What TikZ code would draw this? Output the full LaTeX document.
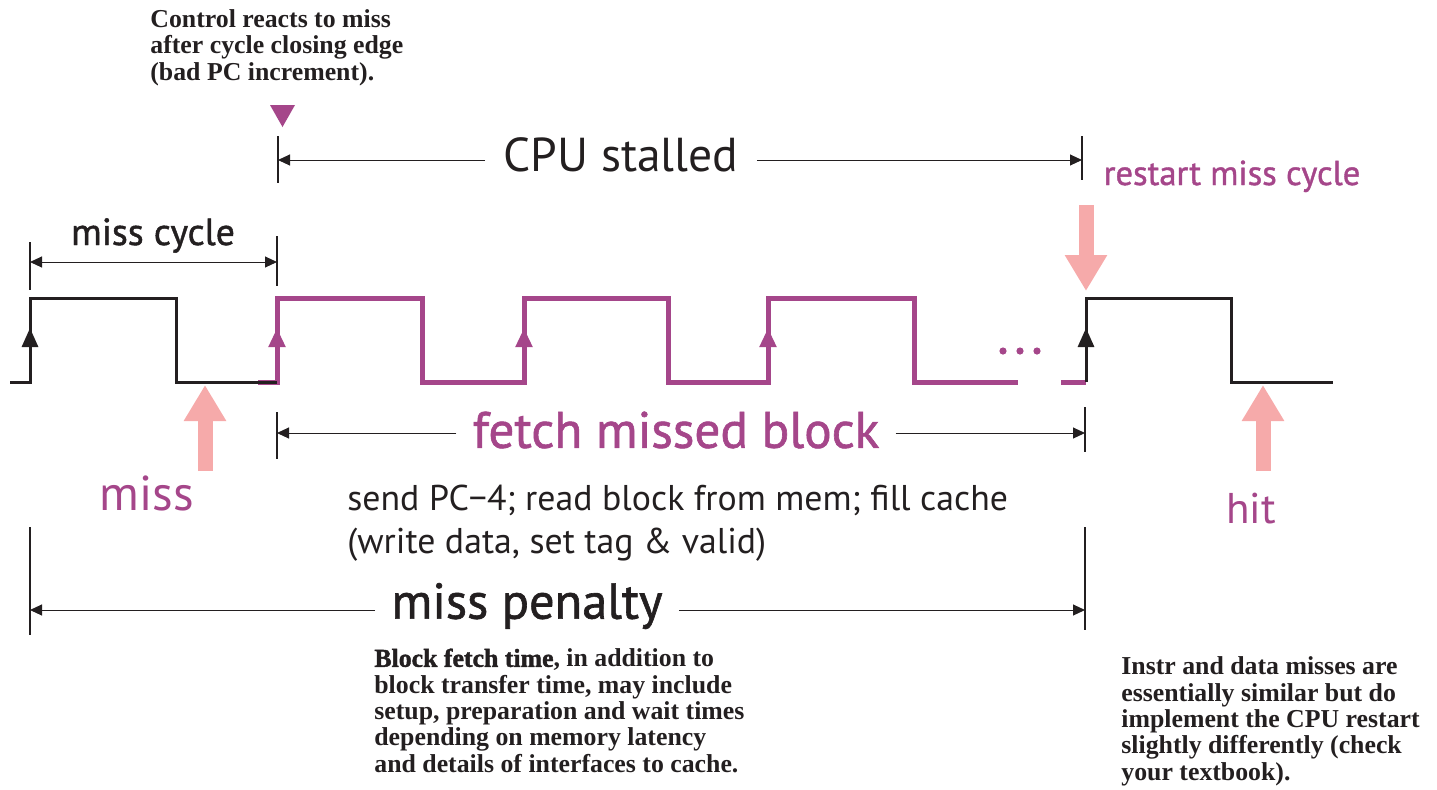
\documentclass[tikz,border=0pt]{standalone}
\usepackage{fontspec}
\setmainfont{Liberation Serif}
\newfontfamily\heavyserif{Liberation Serif}[BoldFeatures={FakeBold=1.6}]
\newfontfamily\sansfont{PT Sans}
\newfontfamily\semisans{PT Sans}[FakeBold=1.2]
\usetikzlibrary{arrows.meta, calc, positioning}

\definecolor{plum}{RGB}{165,70,138}
\definecolor{pinky}{RGB}{246,170,170}
\definecolor{ink}{RGB}{35,31,32}

\begin{document}
\begin{tikzpicture}[x=0.5pt, y=-0.5pt,
  wave/.style={ink, line width=1.5pt, line join=miter},
  fwave/.style={plum, line width=2.5pt, line join=miter},
  edgetip/.style={-{Triangle[length=9.5pt, width=8pt]}},
  tick/.style={ink, line width=0.75pt},
  dim/.style={ink, line width=0.5pt, -{Triangle[length=6pt, width=5.5pt]}},
  dimboth/.style={dim, {Triangle[length=6pt, width=5.5pt]}-{Triangle[length=6pt, width=5.5pt]}},
  pinkarrow/.style={pinky, line width=7.5pt, -{Triangle[length=18pt, width=20pt]}},
  note/.style={text=ink, font=\bfseries\fontsize{12.9}{13.15}\selectfont, align=left, inner sep=0pt, anchor=base west},
  lbl/.style={inner sep=0pt, anchor=base}]

\useasboundingbox (0,0) rectangle (1437,789);

% fetch cycles
\draw[fwave] (258,382) -- (277,382) -- (277,298) -- (422,298) -- (422,382) -- (524,382) -- (524,298) -- (668,298) -- (668,382) -- (768,382) -- (768,298) -- (914,298) -- (914,382) -- (1018,382);
\draw[fwave] (1061,382) -- (1086,382);
% miss cycle and restarted cycle
\draw[wave] (10,382) -- (30,382) -- (30,298) -- (176,298) -- (176,382) -- (277,382);
\draw[wave] (1086,382) -- (1086,298) -- (1231,298) -- (1231,382) -- (1333,382);
% rising edges
\foreach \x in {30,1086} \draw[wave, edgetip] (\x,352) -- (\x,328);
\foreach \x in {277,524,768} \draw[fwave, edgetip] (\x,352) -- (\x,328);
\foreach \x in {1003,1020,1037} \fill[plum] (\x,351) circle (1.8pt);

% miss cycle
\draw[tick] (30,242) -- (30,290);
\draw[tick] (277,236) -- (277,286);
\coordinate (cycL) at (30,262);
\coordinate (cycR) at (277,262);
\draw[dimboth] (cycL) -- (cycR);
\node[lbl, text=ink, font=\semisans\fontsize{18.9}{22}\selectfont] (cyc) at (153,245) {miss cycle};

% control reaction
\node[note] (ctrl) at (150,80) {Control reacts to miss\\after cycle closing edge\\(bad PC increment).};
\fill[plum] (270,105) -- (295,105) -- (282.5,127) -- cycle;

% CPU stalled
\draw[tick] (278,136) -- (278,183);
\draw[tick] (1082,136) -- (1082,180);
\coordinate (stL) at (278,160);
\coordinate (stR) at (1082,160);
\node[text=ink, inner xsep=9pt, font=\sansfont\fontsize{23.8}{28}\selectfont] (stall) at (621,155) {CPU stalled};
\draw[dim] (stall.west |- stL) -- (stL);
\draw[dim] (stall.east |- stR) -- (stR);

% restart
\node[lbl, text=plum, font=\semisans\fontsize{17.3}{20}\selectfont] (restart) at (1232,185) {restart miss cycle};
\coordinate (rsTop) at (1086,205);
\coordinate (rsTip) at (1086,291);
\draw[pinkarrow] (rsTop) -- (rsTip);

% miss and hit
\coordinate (missFoot) at (205,471);
\coordinate (missTip) at (205,385);
\draw[pinkarrow] (missFoot) -- (missTip);
\node[lbl, text=plum, font=\sansfont\fontsize{24.5}{28}\selectfont] (miss) at (147,510) {miss};
\coordinate (hitFoot) at (1263,471);
\coordinate (hitTip) at (1263,385);
\draw[pinkarrow] (hitFoot) -- (hitTip);
\node[lbl, text=plum, font=\sansfont\fontsize{21.5}{26}\selectfont] (hit) at (1251,523) {hit};

% fetch missed block
\draw[tick] (277,412) -- (277,459);
\draw[tick] (1085,407) -- (1085,452);
\coordinate (feL) at (277,433);
\coordinate (feR) at (1085,433);
\node[text=plum, inner xsep=8pt, font=\semisans\fontsize{25.6}{30}\selectfont] (fetch) at (676,430) {fetch missed block};
\draw[dim] (fetch.west |- feL) -- (feL);
\draw[dim] (fetch.east |- feR) -- (feR);
\node[anchor=base west, inner sep=0pt, align=left, text=ink, font=\sansfont\fontsize{17.9}{21.5}\selectfont] (send) at (347,553) {send PC−4; read block from mem; fill cache\\(write data, set tag \& valid)};

% miss penalty
\draw[tick] (30,527) -- (30,635);
\draw[tick] (1085,527) -- (1085,630);
\coordinate (peL) at (30,610);
\coordinate (peR) at (1085,610);
\node[text=ink, inner xsep=8pt, font=\semisans\fontsize{25.2}{30}\selectfont] (penalty) at (527,606) {miss penalty};
\draw[dim] (penalty.west |- peL) -- (peL);
\draw[dim] (penalty.east |- peR) -- (peR);

% notes
\node[note] (blk) at (374,772) {{\heavyserif\bfseries Block fetch time}, in addition to\\block transfer time, may include\\setup, preparation and wait times\\depending on memory latency\\and details of interfaces to cache.};
\node[note] (instr) at (1121,780) {Instr and data misses are\\essentially similar but do\\implement the CPU restart\\slightly differently (check\\your textbook).};
\end{tikzpicture}
\end{document}
